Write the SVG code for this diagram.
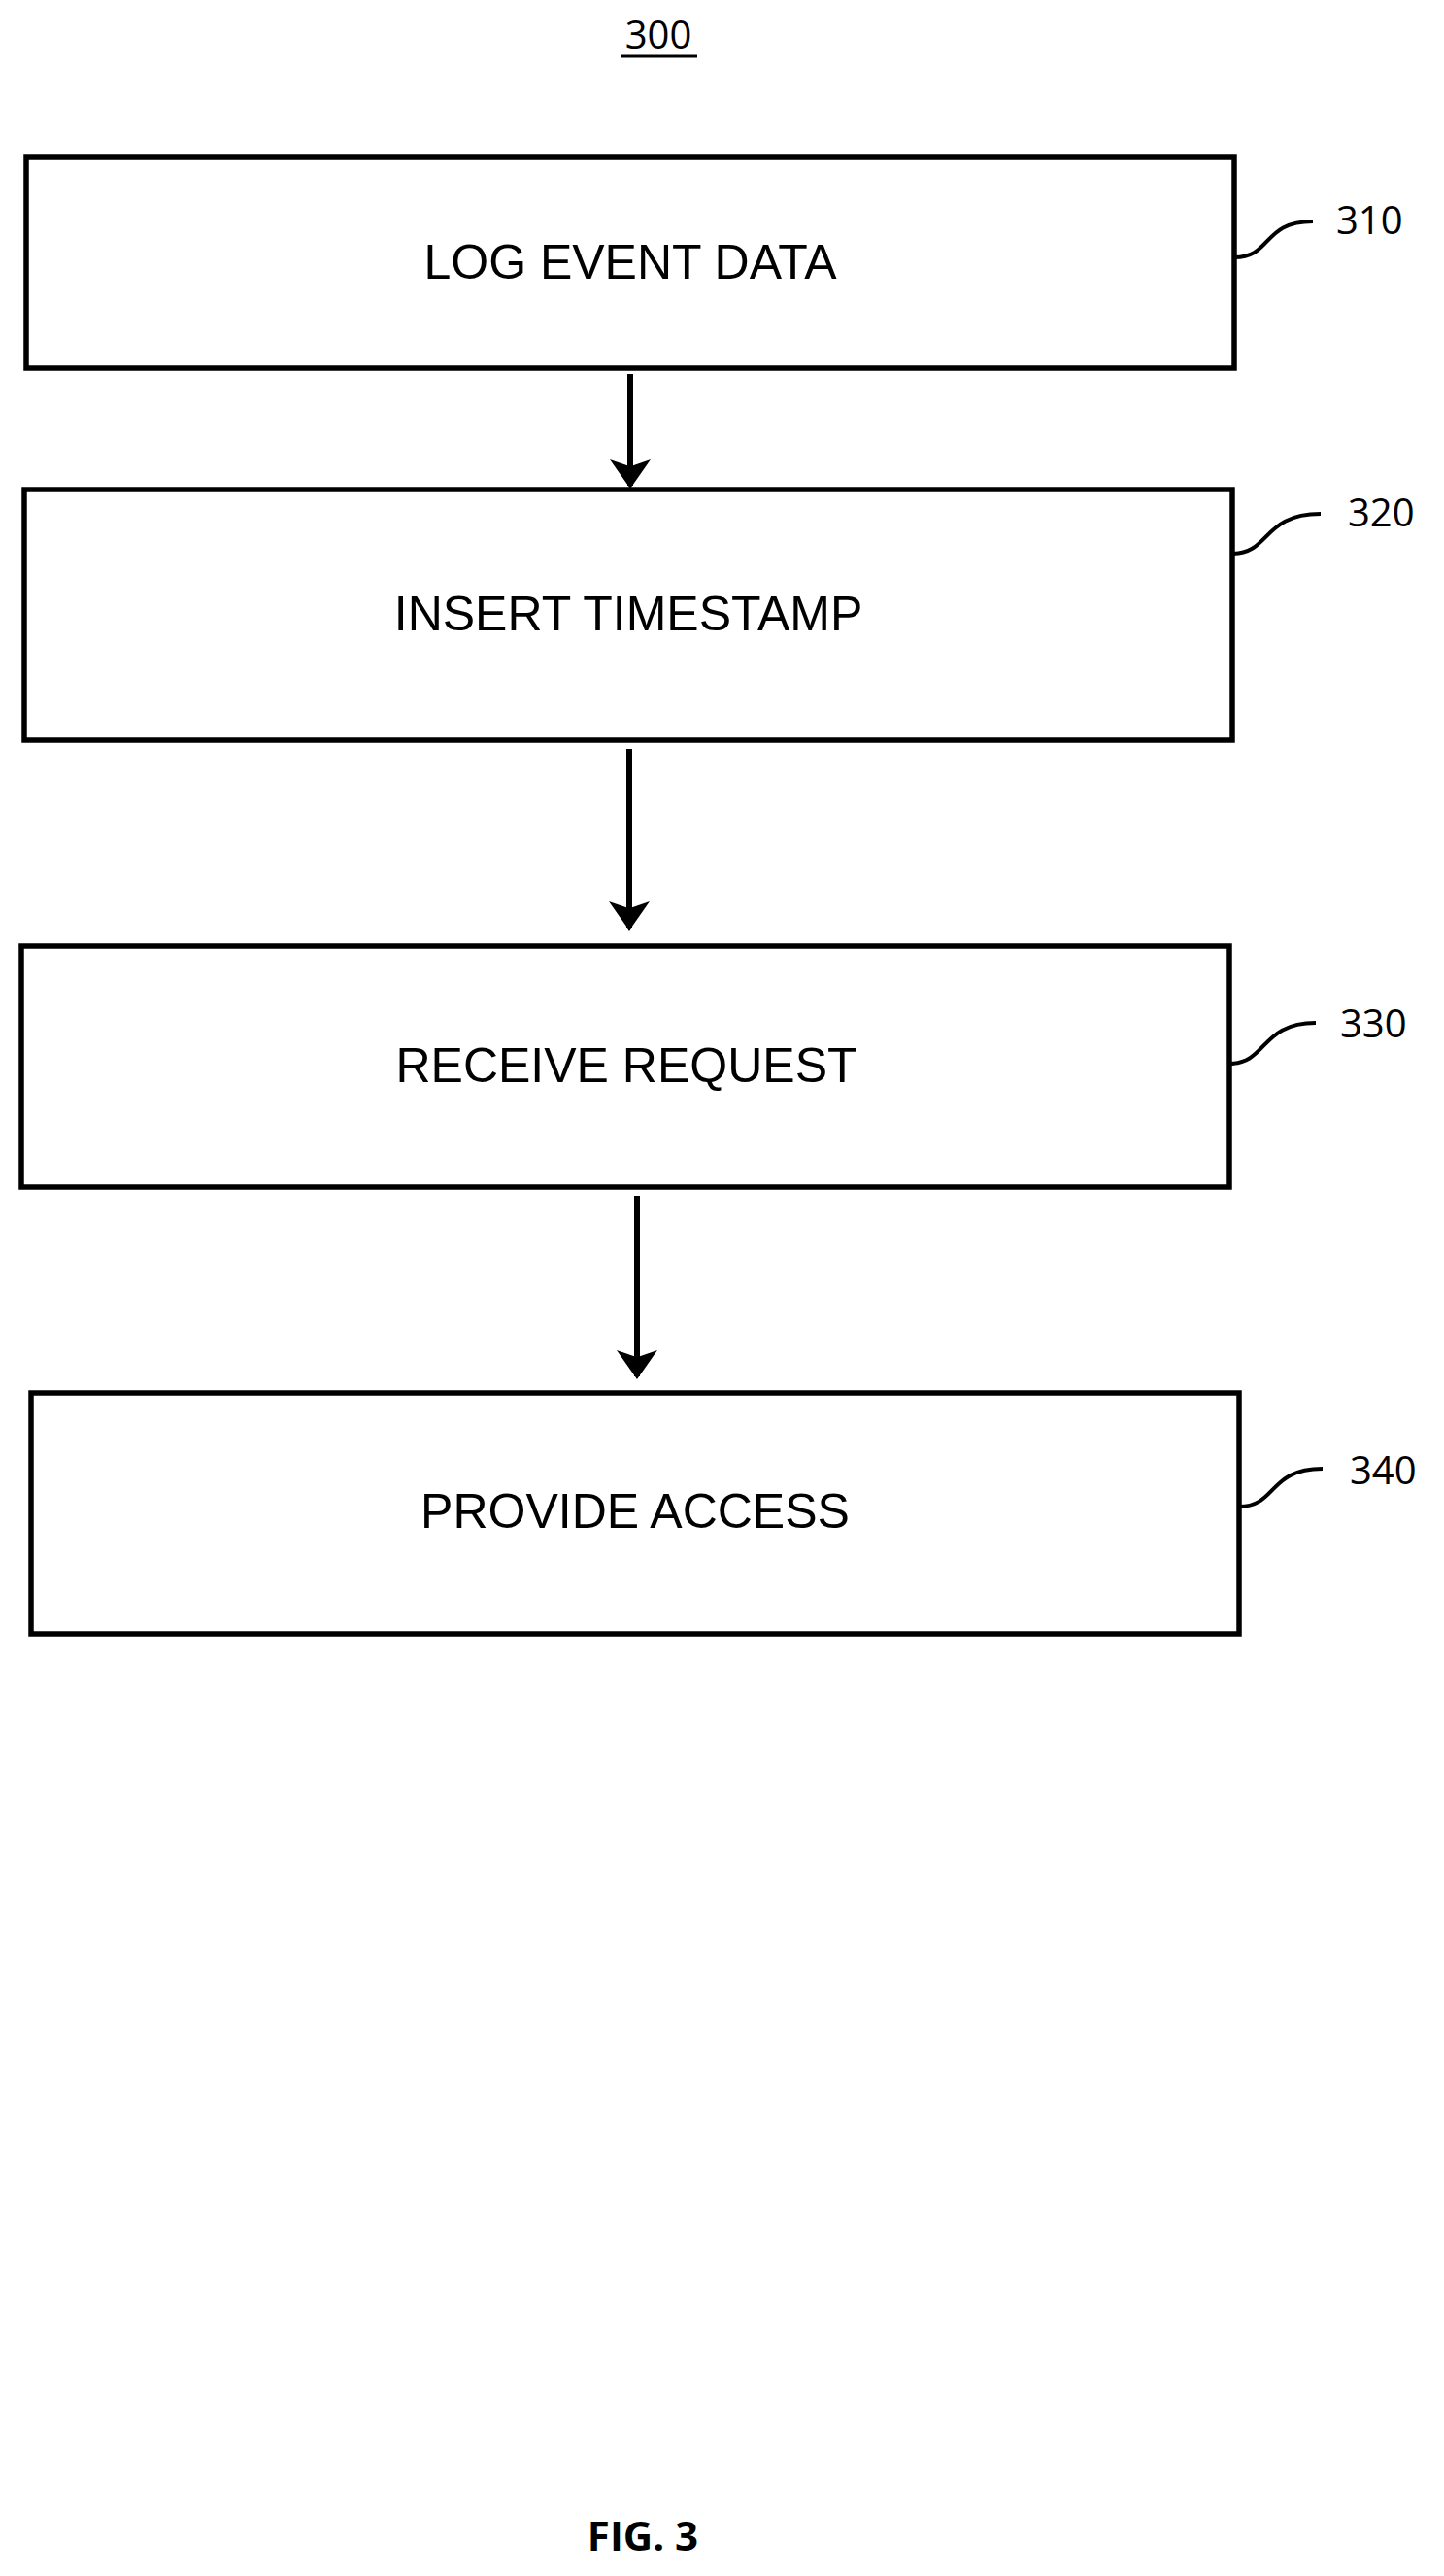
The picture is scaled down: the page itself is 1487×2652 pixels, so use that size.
<svg xmlns="http://www.w3.org/2000/svg" width="1487" height="2652" viewBox="0 0 1487 2652">
<style>
.box{fill:#fff;stroke:#000;stroke-width:5.5}
.t{font-family:"Liberation Sans",Arial,sans-serif;font-size:50px;text-anchor:middle}
.lb{font-family:"Open Sans","Liberation Sans",sans-serif;font-size:40px}
.ld{fill:none;stroke:#000;stroke-width:4}
.ar{stroke:#000;stroke-width:6;fill:none}
</style>
<defs><marker id="ah" markerWidth="5" markerHeight="7" refX="4.5" refY="3.5" orient="auto" markerUnits="strokeWidth"><path d="M0,0L5,3.5L0,7L1.2,3.5z" fill="#000"/></marker></defs>
<rect width="1487" height="2652" fill="#fff"/>
<text x="678" y="50" class="lb" text-anchor="middle">300</text>
<line x1="640" y1="58" x2="718" y2="58" stroke="#000" stroke-width="3"/>
<g id="n310"><rect class="box" x="27" y="162" width="1244" height="217"/><text class="t" x="649" y="287">LOG EVENT DATA</text><path class="ld" d="M1271,265C1310,265 1300,228 1352,228"/><text class="lb" x="1376" y="241">310</text></g>
<g id="n320"><rect class="box" x="25" y="504" width="1244" height="258"/><text class="t" x="647" y="649">INSERT TIMESTAMP</text><path class="ld" d="M1269,570C1308,570 1300,529 1360,529"/><text class="lb" x="1388" y="542">320</text></g>
<g id="n330"><rect class="box" x="22" y="974" width="1244" height="248"/><text class="t" x="645" y="1114">RECEIVE REQUEST</text><path class="ld" d="M1266,1095C1305,1095 1298,1053 1355,1053"/><text class="lb" x="1380" y="1068">330</text></g>
<g id="n340"><rect class="box" x="32" y="1434" width="1244" height="248"/><text class="t" x="654" y="1573">PROVIDE ACCESS</text><path class="ld" d="M1276,1551C1315,1551 1306,1512 1362,1512"/><text class="lb" x="1390" y="1528">340</text></g>
<g id="connectors">
<line class="ar" x1="649" y1="385" x2="649" y2="500" marker-end="url(#ah)"/>
<line class="ar" x1="648" y1="771" x2="648" y2="955" marker-end="url(#ah)"/>
<line class="ar" x1="656" y1="1231" x2="656" y2="1417" marker-end="url(#ah)"/>
</g>
<text x="662" y="2626" font-family="'Open Sans','Liberation Sans',sans-serif" font-size="42" font-weight="bold" text-anchor="middle">FIG. 3</text>
</svg>
